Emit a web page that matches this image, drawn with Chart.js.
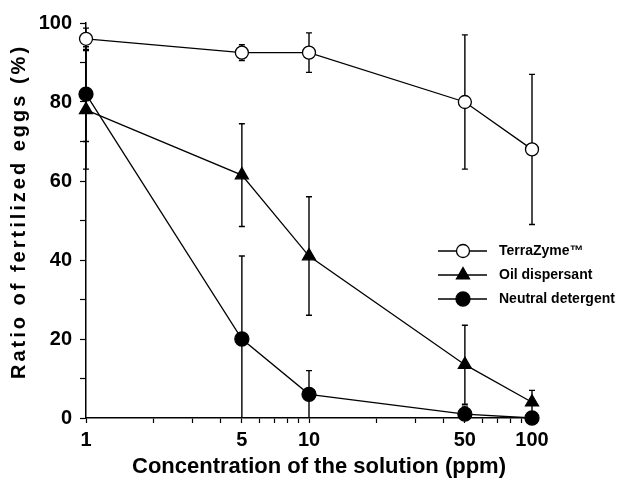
<!DOCTYPE html>
<html>
<head>
<meta charset="utf-8">
<script src="https://cdn.jsdelivr.net/npm/chart.js@4"></script>
<style>
html,body{margin:0;padding:0;background:#fff;}
#wrap{width:621px;height:482px;position:relative;}
</style>
</head>
<body>
<div id="wrap"><canvas id="c" width="621" height="482"></canvas></div>
<script>
const concentrations = [1, 5, 10, 50, 100];
const terraZyme = [96, 92.5, 92.5, 80, 68];
const terraZymeErr = [2.7, 2, 5, 17, 19];
const oilDispersant = [78, 61.5, 41, 13.5, 4];
const oilDispersantErr = [15, 13, 15, 10, 3];
const neutralDetergent = [82, 20, 6, 1, 0];
const neutralDetergentErr = [12, 21, 6, 2, 0];
const seriesNames = ['TerraZyme\u2122', 'Oil dispersant', 'Neutral detergent'];
const xTickValues = [1,2,3,4,5,6,7,8,9,10,20,30,40,50,60,70,80,90,100];
const xTickLabels = [1, 5, 10, 50, 100];
const yTickLabels = [0, 20, 40, 60, 80, 100];
const xTitle = 'Concentration of the solution (ppm)';
const yTitle = 'Ratio of fertilized eggs (%)';

const FONT = '"Liberation Sans", Arial, Helvetica, sans-serif';

const seriesVals = [terraZyme, oilDispersant, neutralDetergent];
const seriesErrs = [terraZymeErr, oilDispersantErr, neutralDetergentErr];
const styles = [
  {pointStyle:'circle', bg:'#ffffff', r:6.5},
  {pointStyle:'triangle', bg:'#000000', r:7.5},
  {pointStyle:'circle', bg:'#000000', r:7}
];

const datasets = seriesVals.map((vals, i) => ({
  label: seriesNames[i],
  data: concentrations.map((x, j) => ({x: x, y: vals[j]})),
  borderColor: '#000',
  borderWidth: 1.3,
  backgroundColor: styles[i].bg,
  pointStyle: styles[i].pointStyle,
  pointRadius: styles[i].r,
  pointBackgroundColor: styles[i].bg,
  pointBorderColor: '#000',
  pointBorderWidth: 1.3,
  tension: 0,
  clip: false
}));

const errorBars = {
  id: 'errorBars',
  beforeDatasetsDraw(chart) {
    const ctx = chart.ctx, xs = chart.scales.x, ys = chart.scales.y;
    ctx.save();
    ctx.strokeStyle = '#000';
    ctx.lineWidth = 1.4;
    seriesVals.forEach((vals, i) => {
      vals.forEach((v, j) => {
        const e = seriesErrs[i][j];
        if (!e) return;
        const px = xs.getPixelForValue(concentrations[j]);
        const top = ys.getPixelForValue(Math.min(100, v + e));
        const bot = ys.getPixelForValue(Math.max(0, v - e));
        ctx.beginPath();
        ctx.moveTo(px, top); ctx.lineTo(px, bot);
        ctx.moveTo(px - 3, top); ctx.lineTo(px + 3, top);
        if (v - e > 0) { ctx.moveTo(px - 3, bot); ctx.lineTo(px + 3, bot); }
        ctx.stroke();
      });
    });
    ctx.restore();
  }
};

function drawMarker(ctx, style, x, y) {
  ctx.beginPath();
  if (style.pointStyle === 'triangle') {
    const r = style.r;
    ctx.moveTo(x, y - r);
    ctx.lineTo(x + Math.sin(2*Math.PI/3)*r, y + r/2);
    ctx.lineTo(x - Math.sin(2*Math.PI/3)*r, y + r/2);
    ctx.closePath();
  } else {
    ctx.arc(x, y, style.r, 0, Math.PI*2);
  }
  ctx.fillStyle = style.bg;
  ctx.fill();
  ctx.lineWidth = 1.3;
  ctx.strokeStyle = '#000';
  ctx.stroke();
}

const extras = {
  id: 'extras',
  afterDraw(chart) {
    const ctx = chart.ctx;
    ctx.save();
    // legend
    const rows = [251, 275, 299];
    seriesNames.forEach((name, i) => {
      const y = rows[i];
      ctx.beginPath();
      ctx.strokeStyle = '#000';
      ctx.lineWidth = 1.3;
      ctx.moveTo(438, y); ctx.lineTo(487, y);
      ctx.stroke();
      drawMarker(ctx, styles[i], 463, y);
      ctx.fillStyle = '#000';
      ctx.font = 'bold 14px ' + FONT;
      ctx.textAlign = 'left';
      ctx.textBaseline = 'middle';
      ctx.fillText(name, 499, y);
    });
    // axis titles
    ctx.fillStyle = '#000';
    ctx.font = 'bold 22px ' + FONT;
    ctx.textAlign = 'center';
    ctx.textBaseline = 'alphabetic';
    ctx.fillText(xTitle, 319, 473);
    ctx.translate(25, 213);
    ctx.rotate(-Math.PI/2);
    ctx.font = 'bold 20px ' + FONT;
    ctx.letterSpacing = '3px';
    ctx.fillText(yTitle, 1.5, 0);
    ctx.restore();
  }
};

new Chart(document.getElementById('c'), {
  type: 'line',
  data: { datasets },
  options: {
    responsive: false,
    animation: false,
    layout: { padding: { left: 0, right: 89, top: 23, bottom: 0 } },
    plugins: { legend: { display: false }, tooltip: { enabled: false } },
    scales: {
      x: {
        type: 'logarithmic',
        min: 1, max: 100,
        afterBuildTicks(scale) { scale.ticks = xTickValues.map(v => ({value: v})); },
        afterFit(scale) { scale.height = 64; },
        border: { display: true, color: '#000', width: 1.5 },
        grid: { drawOnChartArea: false, drawTicks: true, tickLength: 5, color: '#000', tickWidth: 1.2 },
        ticks: {
          autoSkip: false, maxRotation: 0, minRotation: 0,
          padding: 5, color: '#000',
          font: { family: FONT, size: 20, weight: 'bold' },
          callback: (v) => xTickLabels.includes(v) ? String(v) : ''
        }
      },
      y: {
        min: 0, max: 100,
        afterFit(scale) { scale.width = 86; },
        border: { display: true, color: '#000', width: 1.5 },
        grid: { drawOnChartArea: false, drawTicks: true, tickLength: 6, color: '#000', tickWidth: 1.2 },
        ticks: {
          stepSize: 10, autoSkip: false, padding: 8, color: '#000',
          font: { family: FONT, size: 20, weight: 'bold' },
          callback: (v) => yTickLabels.includes(v) ? String(v) : ''
        }
      }
    }
  },
  plugins: [errorBars, extras]
});
</script>
</body>
</html>
